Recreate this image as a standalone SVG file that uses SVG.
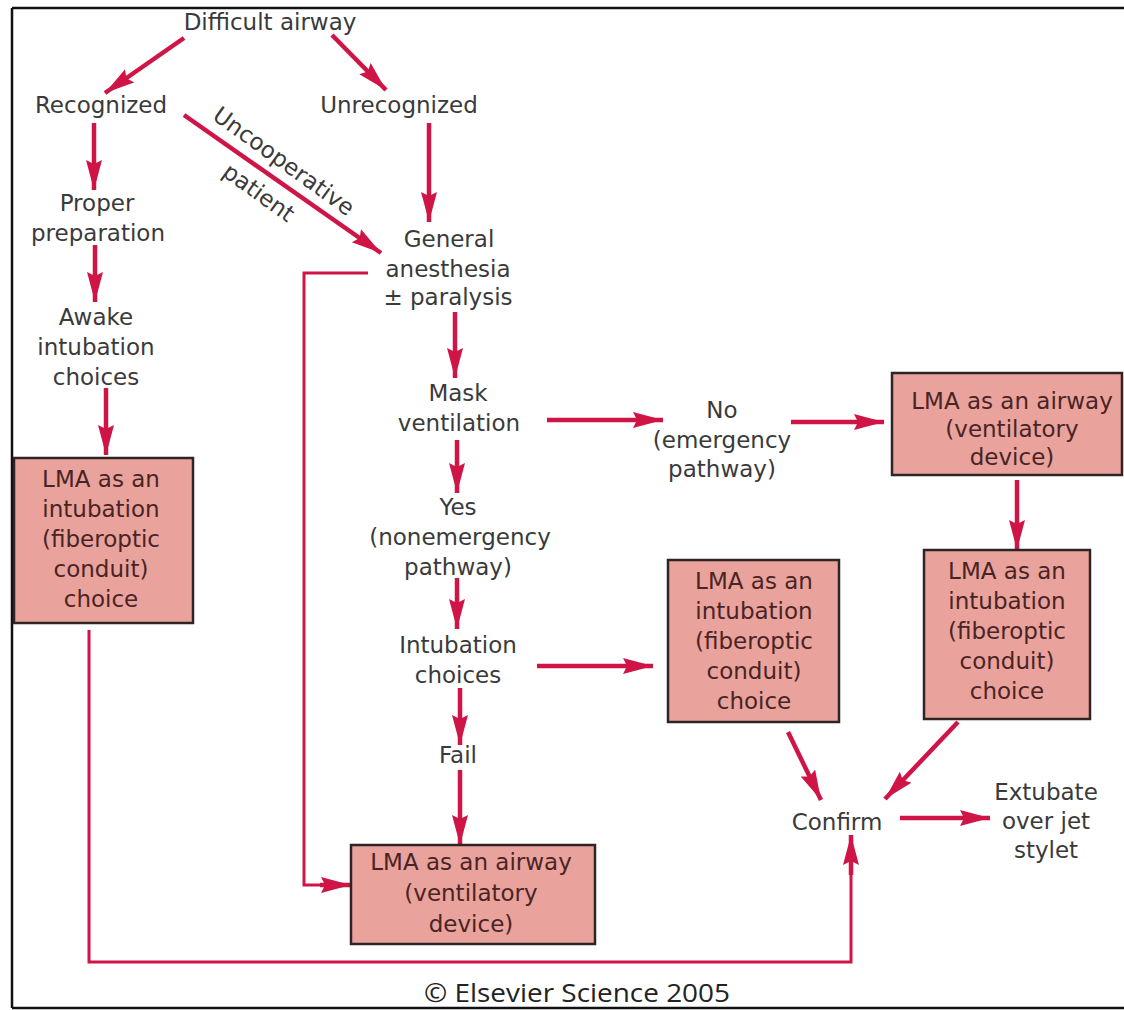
<svg xmlns="http://www.w3.org/2000/svg" width="1124" height="1010" viewBox="0 0 1124 1010">
<style>
text{font-family:"DejaVu Sans","Liberation Sans",sans-serif;font-size:23px;fill:#3a3a3a;text-anchor:middle}
.box rect{fill:#e9a29c;stroke:#2e2424;stroke-width:2.5}
.box text{fill:#4a2424}
.c{fill:none;stroke:#cf1446;stroke-width:4.5;marker-end:url(#ah)}
.t{fill:none;stroke:#cf1446;stroke-width:3}
.frame{stroke:#111;stroke-width:2.5}
</style>
<defs>
<marker id="ah" markerUnits="userSpaceOnUse" markerWidth="32" markerHeight="18" refX="30" refY="8.5" orient="auto">
<path d="M0,0.5 L30,8.5 L0,16.5 L4,8.5 Z" fill="#cf1446"/>
</marker>
</defs>
<rect width="1124" height="1010" fill="#fff"/>
<g id="frame">
<line class="frame" x1="12" y1="8" x2="1124" y2="8"/>
<line class="frame" x1="12" y1="8" x2="12" y2="1008"/>
<line class="frame" x1="12" y1="1008" x2="1124" y2="1008"/>
</g>
<g id="connectors">
<line class="c" x1="184" y1="38" x2="105" y2="93"/>
<line class="c" x1="332" y1="35" x2="386" y2="90"/>
<line class="c" x1="94" y1="123" x2="94" y2="190"/>
<line class="c" x1="95" y1="245" x2="95" y2="302"/>
<line class="c" x1="106" y1="388" x2="106" y2="455"/>
<line class="c" x1="429" y1="123" x2="429" y2="222"/>
<line class="c" x1="184" y1="115" x2="381" y2="253"/>
<line class="c" x1="455" y1="312" x2="455" y2="378"/>
<line class="c" x1="457" y1="440" x2="457" y2="493"/>
<line class="c" x1="457" y1="578" x2="457" y2="629"/>
<line class="c" x1="460" y1="688" x2="460" y2="745"/>
<line class="c" x1="460" y1="770" x2="460" y2="845"/>
<line class="c" x1="547" y1="420" x2="663" y2="420"/>
<line class="c" x1="791" y1="422" x2="884" y2="422"/>
<line class="c" x1="537" y1="666" x2="653" y2="666"/>
<line class="c" x1="1017" y1="480" x2="1017" y2="550"/>
<line class="c" x1="788" y1="732" x2="821" y2="800"/>
<line class="c" x1="958" y1="722" x2="885" y2="799"/>
<line class="c" x1="900" y1="818" x2="990" y2="818"/>
<polyline class="t" points="368,273 304,273 304,885 330,885"/>
<line class="c" x1="320" y1="885" x2="351" y2="885"/>
<polyline class="t" points="89,630 89,962 851,962 851,860"/>
<line class="c" x1="851" y1="875" x2="851" y2="835"/>
</g>
<g id="difficult-airway"><text x="270" y="30">Difficult airway</text></g>
<g id="recognized"><text x="101" y="113">Recognized</text></g>
<g id="unrecognized"><text x="399" y="113">Unrecognized</text></g>
<g id="uncooperative-label" transform="translate(184,115) rotate(35.8)">
<text x="108" y="-13">Uncooperative</text>
<text x="106" y="27">patient</text>
</g>
<g id="proper-preparation"><text x="97" y="211">Proper</text><text x="98" y="241">preparation</text></g>
<g id="awake-intubation"><text x="96" y="325">Awake</text><text x="96" y="355">intubation</text><text x="96" y="385">choices</text></g>
<g id="general-anesthesia"><text x="449" y="247">General</text><text x="448" y="277">anesthesia</text><text x="448" y="305">± paralysis</text></g>
<g id="mask-ventilation"><text x="458" y="401">Mask</text><text x="459" y="431">ventilation</text></g>
<g id="no-emergency"><text x="722" y="418">No</text><text x="722" y="448">(emergency</text><text x="722" y="477">pathway)</text></g>
<g id="yes-nonemergency"><text x="458" y="515">Yes</text><text x="460" y="545">(nonemergency</text><text x="458" y="575">pathway)</text></g>
<g id="intubation-choices"><text x="458" y="653">Intubation</text><text x="458" y="683">choices</text></g>
<g id="fail"><text x="458" y="763">Fail</text></g>
<g id="confirm"><text x="837" y="830">Confirm</text></g>
<g id="extubate"><text x="1046" y="800">Extubate</text><text x="1046" y="829">over jet</text><text x="1046" y="858">stylet</text></g>
<g id="lma-left" class="box">
<rect x="14" y="458" width="179" height="165"/>
<text x="101" y="487">LMA as an</text><text x="101" y="517">intubation</text><text x="101" y="547">(fiberoptic</text><text x="101" y="577">conduit)</text><text x="101" y="607">choice</text>
</g>
<g id="lma-middle" class="box">
<rect x="668" y="560" width="171" height="162"/>
<text x="754" y="589">LMA as an</text><text x="754" y="619">intubation</text><text x="754" y="649">(fiberoptic</text><text x="754" y="679">conduit)</text><text x="754" y="709">choice</text>
</g>
<g id="lma-airway-right" class="box">
<rect x="892" y="373" width="230" height="102"/>
<text x="1012" y="409">LMA as an airway</text><text x="1012" y="437">(ventilatory</text><text x="1012" y="465">device)</text>
</g>
<g id="lma-right" class="box">
<rect x="924" y="550" width="166" height="169"/>
<text x="1007" y="579">LMA as an</text><text x="1007" y="609">intubation</text><text x="1007" y="639">(fiberoptic</text><text x="1007" y="669">conduit)</text><text x="1007" y="699">choice</text>
</g>
<g id="lma-airway-bottom" class="box">
<rect x="351" y="845" width="244" height="99"/>
<text x="471" y="870">LMA as an airway</text><text x="471" y="901">(ventilatory</text><text x="471" y="932">device)</text>
</g>
<g id="copyright"><text x="577" y="1002" style="font-family:'Open Sans','Liberation Sans',sans-serif;font-size:26px;fill:#222" textLength="306" lengthAdjust="spacingAndGlyphs">© Elsevier Science 2005</text></g>
</svg>
